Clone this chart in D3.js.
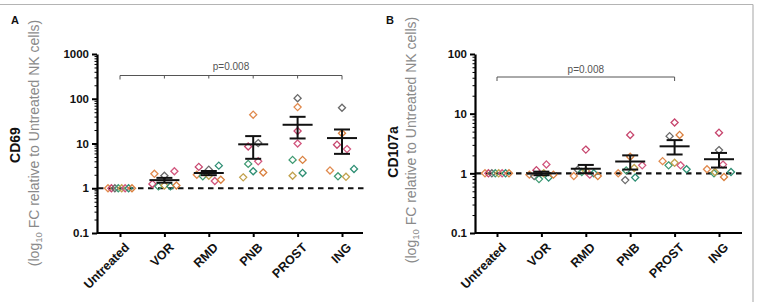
<!DOCTYPE html>
<html><head><meta charset="utf-8">
<script src="https://cdn.jsdelivr.net/npm/d3@7"></script>
<style>
body{margin:0;background:#fff}
svg{display:block;font-family:"Liberation Sans",Arial,Helvetica,sans-serif}
</style></head>
<body><svg id="c" width="757" height="302"></svg>
<script>
// ---------------- data ----------------
const categories = ["Untreated","VOR","RMD","PNB","PROST","ING"];
// donors: orange, crimson, gray, green, olive, pink, teal, dark-orange
const donorColors = ["#e08a4e","#c7466e","#6a6a6a","#3f9a72","#c2a24e","#d2587f","#2f8f74","#d9803f"];

const cd69Values = [
  [1,1,1,1,1,1,1,1],
  [2.1,1.25,1.9,1.1,1.15,2.4,1.1,1.15],
  [2.0,3.0,2.6,1.85,1.9,1.45,3.2,1.55],
  [44,8.6,10.2,3.5,1.75,4.0,2.4,2.25],
  [65,19,103,4.3,1.9,10,2.2,4.3],
  [2.5,9.4,63,1.85,1.8,7.5,2.7,17]
];
const cd107aValues = [
  [1,1,1,1,1,1,1,1],
  [0.95,1.13,0.9,0.8,1.0,1.41,0.85,0.95],
  [0.9,2.5,1.15,1.05,1.1,0.95,1.0,0.9],
  [1.0,4.4,0.77,1.12,1.23,1.36,0.85,1.9],
  [1.6,7.1,4.2,1.36,1.5,1.36,1.17,4.4],
  [1.17,4.8,2.45,1.0,1.05,1.4,1.05,0.87]
];
const cd69Ticks = [0.1,1,10,100,1000];
const cd107aTicks = [0.1,1,10,100];
const panelLetters = ["A","B"];
const panelTitles = ["CD69","CD107a"];
const pValueText = "p=0.008";
const cd69Bracket = ["Untreated","ING"];
const cd107aBracket = ["Untreated","PROST"];

// ---------------- drawing ----------------
const svg = d3.select("#c");

// frame
svg.append("line").attr("x1",0).attr("x2",753).attr("y1",4.5).attr("y2",4.5).attr("stroke","#b4b4b4").attr("stroke-width",1.2);
svg.append("line").attr("x1",753).attr("x2",753).attr("y1",4.5).attr("y2",302).attr("stroke","#b4b4b4").attr("stroke-width",1.2);

function swarm(vals, y, step, maxHalf, rowH){
  const pts = vals.map((v,i)=>({v,i,y:y(v)}));
  const sorted = pts.slice().sort((a,b)=>a.y-b.y);
  const rows=[]; let cur=null;
  sorted.forEach(p=>{ if(!cur || p.y-cur.y0>rowH){cur={y0:p.y,items:[]};rows.push(cur);} cur.items.push(p);});
  rows.forEach(r=>{
    r.items.sort((a,b)=>a.i-b.i);
    const n=r.items.length; let s=step;
    if(n>1 && (n-1)*s/2>maxHalf) s=2*maxHalf/(n-1);
    r.items.forEach((p,k)=>p.dx=(k-(n-1)/2)*s);
  });
  return pts;
}

function panel(cfg){
  const g = svg.append("g");
  const y = d3.scaleLog().domain(cfg.domain).range([cfg.yBottom, cfg.yTop]);
  const x = d3.scalePoint().domain(categories).range(cfg.catRange);

  // y axis
  const yAx = g.append("g").attr("transform",`translate(${cfg.xAxis},0)`)
    .call(d3.axisLeft(y).tickValues(cfg.ticks).tickFormat(d=>String(d)).tickSize(5).tickSizeOuter(0).tickPadding(3));
  yAx.select(".domain").attr("stroke-width",2.2);
  yAx.selectAll(".tick line").attr("stroke-width",2);
  yAx.selectAll("text").attr("font-size","11.5px").attr("font-weight","bold").attr("fill","#111");
  // minor ticks
  const minors=[];
  for(let k=0;k<cfg.ticks.length-1;k++){ for(let m=2;m<=9;m++) minors.push(cfg.ticks[k]*m); }
  const yMin = g.append("g").attr("transform",`translate(${cfg.xAxis},0)`)
    .call(d3.axisLeft(y).tickValues(minors).tickFormat("").tickSize(2.5).tickSizeOuter(0));
  yMin.select(".domain").remove();
  yMin.selectAll(".tick line").attr("stroke-width",1);

  // x axis
  const xAx = g.append("g").attr("transform",`translate(0,${cfg.yBottom})`)
    .call(d3.axisBottom(x).tickSize(4).tickSizeOuter(0).tickFormat(""));
  xAx.select(".domain").attr("d",`M${cfg.xAxis},0H${cfg.xEnd}`).attr("stroke-width",2.2);
  xAx.selectAll(".tick line").attr("stroke-width",2);
  g.selectAll(".catlab").data(categories).enter().append("text")
    .attr("transform",d=>`translate(${x(d)+4},${cfg.yBottom+9}) rotate(-45)`)
    .attr("text-anchor","end").attr("dy","0.7em")
    .attr("font-size","12.5px").attr("font-weight","bold").attr("fill","#111").text(d=>d);

  // reference line at 1
  g.append("line").attr("x1",cfg.xAxis+1).attr("x2",cfg.xEnd+1).attr("y1",y(1)).attr("y2",y(1))
    .attr("stroke","#111").attr("stroke-width",2.2).attr("stroke-dasharray","5.5,4.5");

  // points
  cfg.values.forEach((vals,ci)=>{
    const cx = x(categories[ci]);
    const pts = swarm(vals,y,10,12,8.5);
    g.selectAll(null).data(pts).enter().append("path")
      .attr("d",d3.symbol(d3.symbolDiamond2,32)())
      .attr("transform",p=>`translate(${cx+p.dx},${p.y})`)
      .attr("fill","none").attr("stroke",p=>donorColors[p.i]).attr("stroke-width",1.3);
  });

  // mean ± SEM
  cfg.values.forEach((vals,ci)=>{
    if(ci===0) return;
    const cx = x(categories[ci]);
    const m = d3.mean(vals), se = d3.deviation(vals)/Math.sqrt(vals.length);
    const eg = g.append("g").attr("stroke","#111").attr("stroke-width",2);
    eg.append("line").attr("x1",cx-15).attr("x2",cx+15).attr("y1",y(m)).attr("y2",y(m));
    eg.append("line").attr("x1",cx).attr("x2",cx).attr("y1",y(m-se)).attr("y2",y(m+se));
    eg.append("line").attr("x1",cx-8).attr("x2",cx+8).attr("y1",y(m+se)).attr("y2",y(m+se));
    eg.append("line").attr("x1",cx-8).attr("x2",cx+8).attr("y1",y(m-se)).attr("y2",y(m-se));
  });

  // p-value bracket
  const bx0 = x(cfg.bracket[0]), bx1 = x(cfg.bracket[1]);
  const bg = g.append("g").attr("stroke","#555").attr("stroke-width",1);
  bg.append("line").attr("x1",bx0).attr("x2",bx1).attr("y1",cfg.bracketY).attr("y2",cfg.bracketY);
  const i0 = categories.indexOf(cfg.bracket[0]), i1 = categories.indexOf(cfg.bracket[1]);
  categories.slice(i0,i1+1).forEach((c,k,arr)=>{
    const end = (k===0||k===arr.length-1);
    if(!end && !cfg.innerTicks) return;
    bg.append("line").attr("x1",x(c)).attr("x2",x(c)).attr("y1",cfg.bracketY).attr("y2",cfg.bracketY+(end?4:3));
  });
  g.append("text").attr("x",(bx0+bx1)/2).attr("y",cfg.bracketY-cfg.pGap).attr("text-anchor","middle")
    .attr("font-size","10px").attr("fill","#555").text(pValueText);

  // titles
  g.append("text").attr("x",cfg.letterX).attr("y",24).attr("font-size","11px").attr("font-weight","bold").attr("fill","#111").text(cfg.letter);
  g.append("text").attr("transform",`translate(${cfg.titleX},${cfg.titleY}) rotate(-90)`)
    .attr("text-anchor","middle").attr("font-size","14px").attr("font-weight","bold").attr("fill","#111").text(cfg.title);
  const sub = g.append("text").attr("transform",`translate(${cfg.subX},${cfg.subY}) rotate(-90)`)
    .attr("text-anchor","middle").attr("font-size","14px").attr("fill","#8a8a8a");
  sub.append("tspan").text("(log");
  sub.append("tspan").attr("font-size","9.5px").attr("dy","3").text("10");
  sub.append("tspan").attr("dy","-3").text(" FC relative to Untreated NK cells)");
}

panel({values:cd69Values, ticks:cd69Ticks, domain:[0.1,1000], yTop:54, yBottom:233,
  xAxis:97, xEnd:363, catRange:[120,342], bracket:cd69Bracket, bracketY:75.5, pGap:6, innerTicks:true,
  letter:panelLetters[0], letterX:11, title:panelTitles[0], titleX:20, titleY:145, subX:39, subY:143});
panel({values:cd107aValues, ticks:cd107aTicks, domain:[0.1,100], yTop:54, yBottom:233,
  xAxis:475, xEnd:742, catRange:[497,719], bracket:cd107aBracket, bracketY:77, pGap:4, innerTicks:false,
  letter:panelLetters[1], letterX:386, title:panelTitles[1], titleX:398, titleY:152, subX:416, subY:140});
</script>
</body></html>
